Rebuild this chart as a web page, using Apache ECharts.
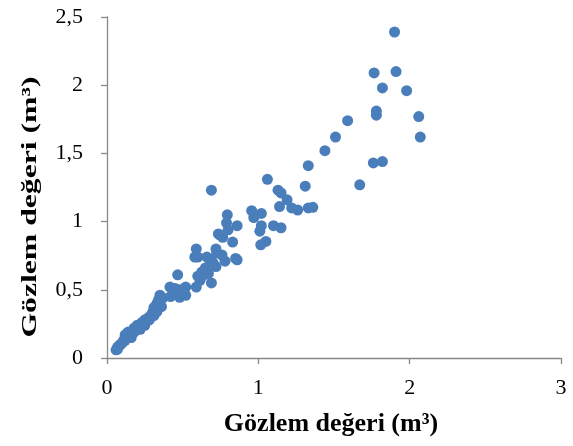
<!DOCTYPE html>
<html>
<head>
<meta charset="utf-8">
<script src="https://cdn.jsdelivr.net/npm/echarts@6/dist/echarts.min.js"></script>
<style>html,body{margin:0;padding:0;background:#fff}#c{width:573px;height:446px}</style>
</head>
<body>
<div id="c"></div>
<script>
var axisTitle = 'Gözlem değeri (m³)';
var xTicks = [0, 1, 2, 3];
var yTicks = [0, 0.5, 1, 1.5, 2, 2.5];

var xVals = [
  1.90,1.765,1.91,1.82,1.98,1.78,1.78,2.06,1.59,1.51,2.07,1.44,1.33,1.76,1.82,1.67,1.31,1.06,0.69,1.13,
  1.15,1.19,1.14,1.22,1.26,1.33,1.36,0.956,0.97,1.02,1.01,1.02,1.10,1.15,1.016,1.05,
  0.795,0.79,0.80,0.86,0.736,0.765,0.75,0.83,0.59,0.58,0.60,0.66,0.68,0.72,0.725,0.76,0.78,0.85,0.86,
  0.72,0.65,0.626,0.60,0.67,0.69,0.59,0.615,0.64,0.70,0.467,0.416,0.45,0.48,0.52,0.52,0.48,0.42,0.44,0.50,
  0.35,0.36,0.34,0.37,0.33,0.31,
  0.30,0.29,0.28,0.27,0.26,0.25,0.24,0.23,0.22,0.21,0.20,0.19,0.18,0.17,0.16,0.15,0.14,0.13,0.12,0.11,
  0.10,0.09,0.08,0.07,0.06,0.07,0.14,0.12,0.18,0.22,0.25,0.28,0.31,0.33,0.20,0.16
];
var yVals = [
  2.39,2.09,2.10,1.98,1.96,1.81,1.78,1.77,1.74,1.62,1.62,1.52,1.41,1.43,1.44,1.27,1.26,1.31,1.23,1.23,
  1.21,1.16,1.11,1.10,1.085,1.10,1.105,1.08,1.03,1.06,0.93,0.97,0.97,0.955,0.83,0.855,
  1.05,0.99,0.94,0.97,0.91,0.885,0.90,0.85,0.80,0.74,0.74,0.74,0.72,0.80,0.77,0.755,0.71,0.73,0.72,
  0.67,0.66,0.63,0.60,0.62,0.55,0.52,0.57,0.61,0.70,0.61,0.52,0.51,0.50,0.52,0.46,0.445,0.45,0.47,0.48,
  0.46,0.376,0.425,0.44,0.40,0.37,
  0.33,0.31,0.30,0.29,0.27,0.28,0.25,0.26,0.23,0.24,0.21,0.22,0.19,0.20,0.17,0.18,0.15,0.16,0.13,0.13,
  0.11,0.10,0.09,0.08,0.06,0.065,0.19,0.17,0.22,0.21,0.24,0.28,0.31,0.34,0.24,0.15
];

var pts = xVals.map(function (x, i) { return [x, yVals[i]]; });
var fam = '"Liberation Serif", "Times New Roman", serif';
var axisCol = '#898989';
function fmt(v) { return String(v).replace('.', ','); }

var chart = echarts.init(document.getElementById('c'), null, {renderer: 'canvas'});
chart.setOption({
  animation: false,
  backgroundColor: '#fff',
  grid: {left: 107, right: 12, top: 17, bottom: 88, containLabel: false},
  xAxis: {
    type: 'value', min: xTicks[0], max: xTicks[xTicks.length - 1], interval: 1,
    axisLine: {show: true, lineStyle: {color: axisCol, width: 1.3}},
    axisTick: {show: true, inside: false, length: 6, lineStyle: {color: axisCol, width: 1.3}},
    axisLabel: {fontFamily: fam, fontSize: 22, color: '#000', margin: 19, formatter: fmt},
    splitLine: {show: false}
  },
  yAxis: {
    type: 'value', min: yTicks[0], max: yTicks[yTicks.length - 1], interval: 0.5,
    axisLine: {show: true, lineStyle: {color: axisCol, width: 1.3}},
    axisTick: {show: true, inside: false, length: 6, lineStyle: {color: axisCol, width: 1.3}},
    axisLabel: {fontFamily: fam, fontSize: 22, color: '#000', margin: 24, formatter: fmt},
    splitLine: {show: false}
  },
  graphic: [{
    type: 'text', x: 331, y: 424,
    style: {text: axisTitle, font: 'bold 26px ' + fam, fill: '#000', textAlign: 'center', textVerticalAlign: 'middle'}
  }, {
    type: 'text', x: 30, y: 207, rotation: Math.PI / 2, scaleX: 1.44, scaleY: 1,
    style: {text: axisTitle, font: 'bold 22px ' + fam, fill: '#000', textAlign: 'center', textVerticalAlign: 'middle'}
  }],
  series: [{
    type: 'scatter', data: pts, symbol: 'circle', symbolSize: 11,
    itemStyle: {color: '#4A7EBB', opacity: 1}
  }]
});
</script>
</body>
</html>
